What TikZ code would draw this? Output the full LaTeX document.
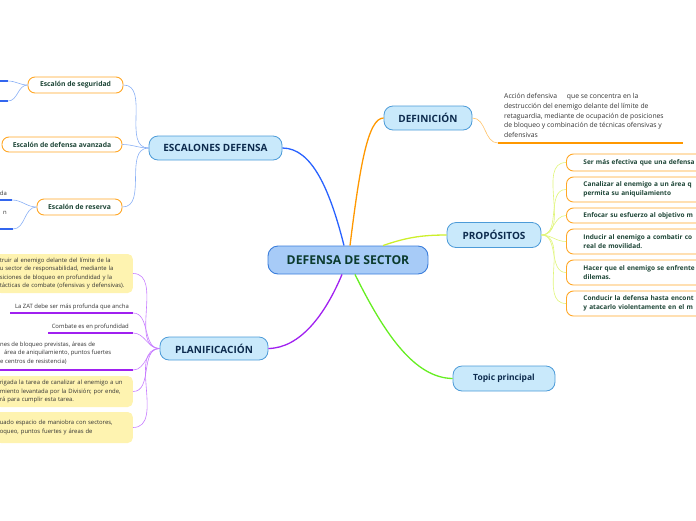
\documentclass[tikz,border=0pt]{standalone}
\usepackage{fontspec}
\setmainfont{Open Sans}
\definecolor{mainb}{HTML}{3A7DDB}
\definecolor{mainf}{HTML}{A7CBF7}
\definecolor{maint}{HTML}{0B3B2E}
\definecolor{lvlb}{HTML}{4C9BD8}
\definecolor{lvlf}{HTML}{C9E9FB}
\definecolor{lvlt}{HTML}{0D2B4E}
\definecolor{orng}{HTML}{FFA726}
\definecolor{subt}{HTML}{1E4637}
\definecolor{plain}{HTML}{333333}
\definecolor{yel}{HTML}{FEF3B0}
\definecolor{cblue}{HTML}{2962FF}
\definecolor{corange}{HTML}{FF9800}
\definecolor{clime}{HTML}{CDEF2B}
\definecolor{cpurple}{HTML}{A020F0}
\definecolor{cgreen}{HTML}{66EE22}
\definecolor{lblue}{HTML}{8AB0F5}
\definecolor{lpurple}{HTML}{C77DFF}
\definecolor{llime}{HTML}{E0F57A}
\definecolor{lorange}{HTML}{FFC266}
\definecolor{ublue}{HTML}{3366EE}
\begin{document}
\begin{tikzpicture}[x=1pt,y=-1pt,
  mainnode/.style={draw=mainb, fill=mainf, line width=0.9pt, rounded corners=10pt, text=maint,
    font=\fontsize{12.2}{14}\selectfont\bfseries, minimum width=160pt, minimum height=28pt, inner sep=0pt},
  lvl/.style={draw=lvlb, fill=lvlf, line width=0.8pt, rounded corners=9pt, text=lvlt,
    font=\fontsize{10}{12}\selectfont\bfseries, minimum height=24pt, inner sep=0pt},
  subnode/.style={draw=orng, fill=white, line width=0.9pt, rounded corners=7pt, text=subt,
    font=\fontsize{6.8}{8}\selectfont\bfseries, minimum height=16pt, inner sep=0pt},
  pnode/.style={draw=orng, fill=white, line width=0.9pt, rounded corners=7pt, text=subt,
    font=\fontsize{6.5}{9.5}\selectfont\bfseries, anchor=west, minimum width=194pt,
    text width=160pt, inner xsep=16pt, inner ysep=0pt, align=left},
  ybox/.style={fill=yel, rounded corners=5pt, text=plain, font=\fontsize{5.9}{8.6}\selectfont,
    anchor=east, minimum width=137pt, text width=129pt, inner xsep=4pt, inner ysep=0pt, align=left},
  ptext/.style={text=plain, font=\fontsize{5.9}{8.6}\selectfont, inner sep=0pt},
  mainconn/.style={line width=1.3pt},
  subconn/.style={line width=0.6pt},
  uline/.style={line width=1.2pt}
]
\useasboundingbox (0,0) rectangle (696,520);
\clip (0,0) rectangle (696,520);

% main nodes
\node[mainnode] (ctr) at (348,260) {DEFENSA DE SECTOR};
\node[lvl, minimum width=133pt] (esc) at (215.5,148) {ESCALONES DEFENSA};
\node[lvl, minimum width=88pt] (def) at (428,118) {DEFINICIÓN};
\node[lvl, minimum width=94pt, minimum height=25pt] (prop) at (494,235) {PROPÓSITOS};
\node[lvl, minimum width=108pt, minimum height=23pt] (plan) at (214,348.5) {PLANIFICACIÓN};
\node[lvl, minimum width=102pt, minimum height=25pt, font=\fontsize{8.5}{10}\selectfont\bfseries] (topic) at (504,378.5) {Topic principal};

% main connectors
\draw[mainconn, cblue] ([xshift=-4pt]ctr.north) .. controls (330,190) and (312,148) .. (esc.east);
\draw[mainconn, corange] ([xshift=2pt]ctr.north) .. controls (360,165) and (368,118) .. (def.west);
\draw[mainconn, clime] ([xshift=35pt]ctr.north) .. controls (405,238) and (420,235) .. (prop.west);
\draw[mainconn, cpurple] ([xshift=-6pt]ctr.south) .. controls (325,315) and (300,348) .. (plan.east);
\draw[mainconn, cgreen] ([xshift=7pt]ctr.south) .. controls (385,335) and (415,378) .. (topic.west);

% escalones children
\node[subnode, minimum width=95pt] (seg) at (75.5,85) {Escalón de seguridad};
\node[subnode, minimum width=120pt, minimum height=15pt] (ava) at (62,144.5) {Escalón de defensa avanzada};
\node[subnode, minimum width=85pt] (res) at (79.5,207) {Escalón de reserva};
\foreach \t in {seg,ava,res}
  \draw[subconn, lblue] (esc.west) to[out=180,in=0] (\t.east);

% seguridad children (clipped)
\coordinate (s1) at (8,81);
\coordinate (s2) at (8,101);
\draw[uline, ublue] (-5,81) -- (s1);
\draw[uline, ublue] (-5,101) -- (s2);
\draw[subconn, lblue] (seg.west) to[out=180,in=0] (s1);
\draw[subconn, lblue] (seg.west) to[out=180,in=0] (s2);

% reserva children (clipped)
\node[ptext, anchor=south east] (rt1) at (7,196) {da};
\node[ptext, anchor=south east] (rt2) at (7,215) {n};
\coordinate (r1) at (12,200);
\coordinate (r2) at (13,229);
\draw[uline, ublue] (-5,200) -- (r1);
\draw[uline, ublue] (-5,229) -- (r2);
\draw[subconn, lblue] (res.west) to[out=180,in=0] (r1);
\draw[subconn, lblue] (res.west) to[out=180,in=0] (r2);

% definicion child
\node[ptext, anchor=north west, align=left, font=\fontsize{6.8}{9.6}\selectfont] (dtext) at (504,93.5)
  {Acción defensiva\hspace{8pt} que se concentra en la\\destrucción del enemigo delante del límite de\\retaguardia, mediante de ocupación de posiciones\\de bloqueo y combinación de técnicas ofensivas y\\defensivas};
\coordinate (d1) at (498,143);
\draw[uline, corange] (d1) -- (683,143);
\draw[subconn, lorange] (def.east) to[out=0,in=180] (d1);

% propositos children
\node[pnode, minimum height=17pt, inner xsep=12pt] (q1) at (566,162.5) {Ser más efectiva que una defensa};
\node[pnode, minimum height=25pt] (q2) at (566,189.5) {Canalizar al enemigo a un área q\\permita su aniquilamiento};
\node[pnode, minimum height=15pt, inner xsep=11pt] (q3) at (566,215.5) {Enfocar su esfuerzo al objetivo m};
\node[pnode, minimum height=25pt] (q4) at (566,241.5) {Inducir al enemigo a combatir co\\real de movilidad.};
\node[pnode, minimum height=25pt] (q5) at (566,272.5) {Hacer que el enemigo se enfrente\\dilemas.};
\node[pnode, minimum height=25pt] (q6) at (566,303.5) {Conducir la defensa hasta encont\\y atacarlo violentamente en el m};
\foreach \t in {q1,q2,q3,q4,q5,q6}
  \draw[subconn, llime] (prop.east) to[out=0,in=180] (\t.west);

% planificacion children
\node[ybox, minimum height=39pt] (p1) at (133,273.5)
  {truir al enemigo delante del límite de la\\u sector de responsabilidad, mediante la\\siciones de bloqueo en profundidad y la\\tácticas de combate (ofensivas y defensivas).};
\node[ptext, anchor=base east] (p2t) at (129,308.5) {La ZAT debe ser más profunda que ancha};
\coordinate (p2) at (133,313);
\draw[uline, cpurple] (10,313) -- (p2);
\node[ptext, anchor=base east] (p3t) at (129,328.5) {Combate es en profundidad};
\coordinate (p3) at (133,333);
\draw[uline, cpurple] (48,333) -- (p3);
\node[ptext, anchor=north west, align=left] (p4t) at (0,341.5)
  {nes de bloqueo previstas, áreas de\\\hspace*{4pt}área de aniquilamiento, puntos fuertes\\e centros de resistencia)};
\coordinate (p4) at (133,370);
\draw[uline, cpurple] (-5,370) -- (p4);
\node[ybox, minimum height=31pt] (p5) at (133,391.5)
  {rigada la tarea de canalizar al enemigo a un\\miento levantada por la División; por ende,\\rá para cumplir esta tarea.};
\node[ybox, minimum height=31pt, text depth=10pt] (p6) at (133,427.5)
  {uado espacio de maniobra con sectores,\\oqueo, puntos fuertes y áreas de};
\draw[subconn, lpurple] (plan.west) to[out=180,in=0] (p1.east);
\draw[subconn, lpurple] (plan.west) to[out=180,in=0] (p2);
\draw[subconn, lpurple] (plan.west) to[out=180,in=0] (p3);
\draw[subconn, lpurple] (plan.west) to[out=180,in=0] (p4);
\draw[subconn, lpurple] (plan.west) to[out=180,in=0] (p5.east);
\draw[subconn, lpurple] (plan.west) to[out=180,in=0] (p6.east);
\end{tikzpicture}
\end{document}
